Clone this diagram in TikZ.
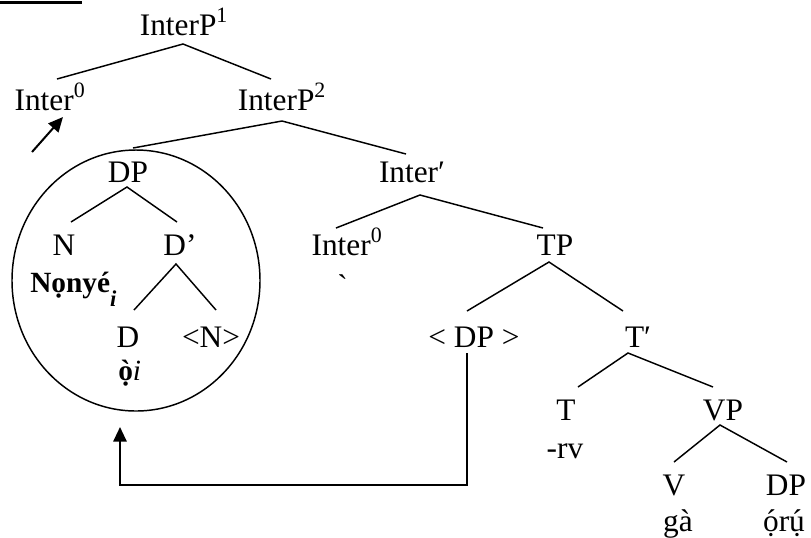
\documentclass[tikz,border=0pt]{standalone}
\usepackage{fontspec}
\setmainfont{Liberation Serif}
\usetikzlibrary{arrows.meta,shapes.geometric}
\newcommand\withacc[2]{\ooalign{#2\cr\hidewidth#1\hidewidth\cr}}
\begin{document}
\begin{tikzpicture}[x=0.75pt,y=-0.75pt,
  lbl/.style={anchor=base,inner sep=0pt,font=\fontsize{23.5}{28}\selectfont},
  edge/.style={line width=1.1pt},
  move/.style={line width=1.5pt,-{Triangle[length=11pt,width=10pt]}}]
\useasboundingbox (0,0) rectangle (811,537);
% top rule
\coordinate (ruleA) at (0,2.5);
\coordinate (ruleB) at (82,2.5);
\draw[line width=1.6pt] (ruleA) -- (ruleB);
% labels
\node[lbl] (ip1) at (184,35) {InterP\textsuperscript{1}};
\node[lbl] (int0a) at (50,110) {Inter\textsuperscript{0}};
\node[lbl] (ip2) at (282,110) {InterP\textsuperscript{2}};
\node[lbl] (intbar) at (412,182) {Inter′};
\node[lbl] (int0b) at (347,255) {Inter\textsuperscript{0}};
\node[lbl] (tp) at (555,255) {TP};
\node[anchor=north,inner sep=0pt,font=\fontsize{23.5}{28}\selectfont] (grave) at (342.5,274) {\textasciigrave};
\node[lbl] (dp) at (128,182) {DP};
\node[lbl] (n) at (64,255) {N};
\node[lbl] (dbar) at (180,255) {D’};
\node[lbl,anchor=base west] (nonye) at (30,292) {\fontsize{22}{26}\selectfont\textbf{Nọnyé}\raisebox{-11pt}{\fontsize{17}{20}\selectfont\bfseries\itshape i}};
\node[lbl] (d) at (128,347) {D};
\node[lbl] (ntrace) at (211,347) {<N>};
\node[lbl,anchor=base west] (oi) at (118,380) {\fontsize{22}{26}\selectfont\textbf{\withacc{\textasciigrave}{ọ}}\textit{i}};
\node[lbl] (dptrace) at (474,347) {< DP >};
\node[lbl] (tbar) at (638,347) {T′};
\node[lbl] (t) at (566,420) {T};
\node[lbl] (vp) at (723,420) {VP};
\node[lbl] (rv) at (565,458) {-rv};
\node[lbl] (v) at (674,495) {V};
\node[lbl] (dpo) at (786,495) {DP};
\node[lbl] (ga) at (678,531) {gà};
\node[lbl] (oru) at (784,531) {\withacc{\textasciiacute}{ọ}r\withacc{\textasciiacute}{ụ}};
% circle
\node[draw,ellipse,line width=1.1pt,minimum width=186pt,minimum height=195.75pt,inner sep=0pt] (circ) at (136,280.5) {};
% tree edges
\coordinate (ip1b) at (183,44);
\coordinate (int0at) at (57,79);
\coordinate (ip2t) at (271,79);
\draw[edge] (int0at) -- (ip1b) -- (ip2t);
\coordinate (ip2b) at (282,121);
\coordinate (dpt) at (133,148);
\coordinate (intbart) at (406,154);
\draw[edge] (dpt) -- (ip2b) -- (intbart);
\coordinate (intbarb) at (420,195);
\coordinate (int0bt) at (336,228);
\coordinate (tpt) at (543,228);
\draw[edge] (int0bt) -- (intbarb) -- (tpt);
\coordinate (tpb) at (549,262);
\coordinate (dptracet) at (467,311);
\coordinate (tbart) at (623,311);
\draw[edge] (dptracet) -- (tpb) -- (tbart);
\coordinate (tbarb) at (628,353);
\coordinate (tt) at (578,387);
\coordinate (vpt) at (713,387);
\draw[edge] (tt) -- (tbarb) -- (vpt);
\coordinate (vpb) at (720,425);
\coordinate (vt) at (674,462);
\coordinate (dpot) at (787,462);
\draw[edge] (vt) -- (vpb) -- (dpot);
\coordinate (dpb) at (127,187);
\coordinate (nt) at (71,222);
\coordinate (dbart) at (177,222);
\draw[edge] (nt) -- (dpb) -- (dbart);
\coordinate (dbarb) at (176,264);
\coordinate (dt) at (134,310);
\coordinate (ntracet) at (216,310);
\draw[edge] (dt) -- (dbarb) -- (ntracet);
% arrows
\coordinate (headA) at (63,117);
\coordinate (tailA) at (32,152);
\draw[move] (tailA) -- (headA);
\coordinate (trace) at (467,353);
\coordinate (mvbase) at (0,485);
\coordinate (mvtarget) at (120,427);
\draw[move] (trace) -- (trace |- mvbase) -| (mvtarget);
\end{tikzpicture}
\end{document}
